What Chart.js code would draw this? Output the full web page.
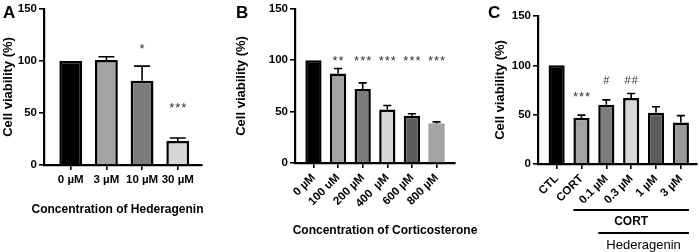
<!DOCTYPE html>
<html>
<head>
<meta charset="utf-8">
<script src="https://cdn.jsdelivr.net/npm/chart.js@4.4.1/dist/chart.umd.min.js"></script>
<style>
  html, body { margin: 0; padding: 0; background: #fff; }
  #wrap { position: relative; width: 699px; height: 252px; overflow: hidden; }
  canvas { position: absolute; top: 0; }
</style>
</head>
<body>
<div id="wrap">
  <canvas id="chartA" width="233" height="252" style="left:0"></canvas>
  <canvas id="chartB" width="250" height="252" style="left:233px"></canvas>
  <canvas id="chartC" width="233" height="252" style="left:466px"></canvas>
</div>
<script>
// A: hederagenin alone
const labelsA = ['0 µM', '3 µM', '10 µM', '30 µM'];
const valuesA = [100, 101, 81, 23];
const errorsA = [0, 3, 14, 3];
const marksA = ['', '', '*', '***'];

// B: corticosterone dose response
const labelsB = ['0 µM', '100 uM', '200 µM', '400  µM', '600 µM', '800 µM'];
const valuesB = [100, 87, 72, 52, 46, 38.5];
const errorsB = [0, 5, 6, 4, 2, 1.5];
const marksB = ['', '**', '***', '***', '***', '***'];

// C: CORT + hederagenin
const labelsC = ['CTL', 'CORT', '0.1 µM', '0.3 µM', '1 µM', '3 µM'];
const valuesC = [100, 47, 60, 67, 52, 42];
const errorsC = [0, 2.5, 5, 4.5, 6, 7];
const marksC = ['', '***', '#', '##', '', ''];

const yTicks = [0, 50, 100, 150];

const FONT = "'Liberation Sans', Arial, sans-serif";
Chart.defaults.font.family = FONT;
Chart.defaults.color = '#000';

const BLACK = '#000000', LIGHT = '#a3a3a3', MID = '#7c7c7c', PALE = '#d6d6d6', DARK = '#5c5c5c';

// error bars, significance marks, panel letter, x title, group brackets
const extras = {
  id: 'extras',
  afterDatasetsDraw(chart, args, opts) {
    const { ctx } = chart;
    const y = chart.scales.y;
    const x = chart.scales.x;
    const meta = chart.getDatasetMeta(0);
    const vals = chart.data.datasets[0].data;
    ctx.save();
    ctx.strokeStyle = '#000';
    ctx.lineWidth = 1.6;
    opts.errors.forEach((e, i) => {
      if (!e) return;
      const bar = meta.data[i];
      const top = y.getPixelForValue(vals[i].y + e);
      const half = bar.width * opts.capRatio / 2;
      ctx.beginPath();
      ctx.moveTo(bar.x, bar.y);
      ctx.lineTo(bar.x, top);
      ctx.moveTo(bar.x - half, top);
      ctx.lineTo(bar.x + half, top);
      ctx.stroke();
    });

    ctx.fillStyle = '#333';
    ctx.textAlign = 'center';
    ctx.textBaseline = 'middle';
    ctx.letterSpacing = '1px';
    opts.marks.forEach((m, i) => {
      if (!m) return;
      ctx.font = (m[0] === '#' ? '11px ' : '13px ') + FONT;
      const off = m[0] === '#' ? 0 : 3;
      ctx.fillText(m, meta.data[i].x + 0.5, y.getPixelForValue(opts.markLevels[i]) + off);
    });
    ctx.letterSpacing = '0px';

    ctx.fillStyle = '#000';
    ctx.textAlign = 'left';
    ctx.font = 'bold 17px ' + FONT;
    ctx.fillText(opts.letter, opts.letterX, 13);

    if (opts.xTitle) {
      ctx.textAlign = 'center';
      ctx.font = 'bold 12px ' + FONT;
      ctx.fillText(opts.xTitle.text, opts.xTitle.cx, opts.xTitle.cy);
    }

    (opts.groups || []).forEach((g) => {
      const bw = meta.data[0].width;
      const x0 = x.getPixelForValue(g.from) - bw / 2;
      const x1 = x.getPixelForValue(g.to) + bw / 2;
      const ly = chart.chartArea.bottom + g.dy;
      ctx.lineWidth = 1.8;
      ctx.beginPath();
      ctx.moveTo(x0, ly);
      ctx.lineTo(x1, ly);
      ctx.stroke();
      ctx.textAlign = 'center';
      ctx.font = (g.bold ? 'bold 12px ' : '13px ') + FONT;
      ctx.fillText(g.text, (x0 + x1) / 2, ly + 12);
    });
    ctx.restore();
  },
};

function makeChart(id, p) {
  return new Chart(document.getElementById(id), {
    type: 'bar',
    data: {
      datasets: [{
        data: p.values.map((v, i) => ({ x: i, y: v })),
        backgroundColor: p.colors,
        borderColor: '#000',
        borderWidth: p.borders,
        borderSkipped: 'start',
        barPercentage: p.barPct,
        categoryPercentage: 1,
      }],
    },
    options: {
      responsive: false,
      animation: false,
      events: [],
      layout: { padding: p.pad },
      plugins: {
        legend: { display: false },
        tooltip: { enabled: false },
        extras: {
          errors: p.errors,
          marks: p.marks,
          markLevels: p.markLevels,
          capRatio: p.capRatio,
          letter: p.letter,
          letterX: p.letterX,
          xTitle: p.xTitle,
          groups: p.groups,
        },
      },
      scales: {
        x: {
          type: 'linear',
          min: -0.75,
          max: p.values.length - 1 + p.xRight,
          offset: false,
          afterBuildTicks: (s) => { s.ticks = p.labels.map((_, i) => ({ value: i })); },
          afterFit: (s) => { s.height = p.xHeight; },
          ticks: {
            autoSkip: false,
            minRotation: p.rot,
            maxRotation: p.rot,
            padding: 3,
            color: '#000',
            font: { size: 11.5, weight: 'bold' },
            callback: (v) => p.labels[v],
          },
          grid: { drawOnChartArea: false, tickLength: 5, color: '#000', lineWidth: 1.6, offset: false },
          border: { color: '#000', width: 2.2 },
        },
        y: {
          min: 0,
          max: 150,
          afterBuildTicks: (s) => { s.ticks = yTicks.map((v) => ({ value: v })); },
          afterFit: (s) => { s.width = p.yWidth; },
          ticks: { padding: 2, color: '#000', font: { size: 11.5, weight: 'bold' } },
          grid: { drawOnChartArea: false, tickLength: 5, color: '#000', lineWidth: 1.6 },
          border: { color: '#000', width: 2.2 },
          title: {
            display: true,
            text: 'Cell viability (%)',
            color: '#000',
            font: { size: 13, weight: 'bold' },
            padding: { top: 1, bottom: 0 },
          },
        },
      },
    },
    plugins: [extras],
  });
}

makeChart('chartA', {
  labels: labelsA, values: valuesA, errors: errorsA, marks: marksA,
  markLevels: [0, 0, 114, 57],
  colors: [BLACK, LIGHT, MID, PALE], borders: 2.5,
  barPct: 0.64, capRatio: 0.7, xRight: 0.68, rot: 0,
  xTitle: { text: 'Concentration of Hederagenin', cx: 117.5, cy: 210 },
  pad: { left: 0, top: 7, right: 31, bottom: 0 },
  yWidth: 44, xHeight: 87,
  letter: 'A', letterX: 3,
});

makeChart('chartB', {
  labels: labelsB, values: valuesB, errors: errorsB, marks: marksB,
  markLevels: [0, 101.5, 101.5, 101.5, 101.5, 101.5],
  colors: [BLACK, LIGHT, MID, PALE, DARK, LIGHT], borders: [2.5, 2.5, 2.5, 2.5, 2.5, 0],
  barPct: 0.66, capRatio: 0.5, xRight: 0.75, rot: 45,
  xTitle: { text: 'Concentration of Corticosterone', cx: 152, cy: 231 },
  pad: { left: 0, top: 7, right: 28, bottom: 0 },
  yWidth: 62, xHeight: 89,
  letter: 'B', letterX: 3,
});

makeChart('chartC', {
  labels: labelsC, values: valuesC, errors: errorsC, marks: marksC,
  markLevels: [0, 71, 84, 84, 0, 0],
  colors: [BLACK, LIGHT, MID, PALE, DARK, '#999999'], borders: 2.5,
  barPct: 0.65, capRatio: 0.5, xRight: 0.65, rot: 45,
  xTitle: null,
  pad: { left: 26, top: 16, right: 2, bottom: 0 },
  yWidth: 46, xHeight: 88,
  letter: 'C', letterX: 22,
  groups: [
    { from: 1, to: 5, text: 'CORT', bold: true, dy: 46 },
    { from: 2, to: 5, text: 'Hederagenin', bold: false, dy: 69 },
  ],
});
</script>
</body>
</html>
